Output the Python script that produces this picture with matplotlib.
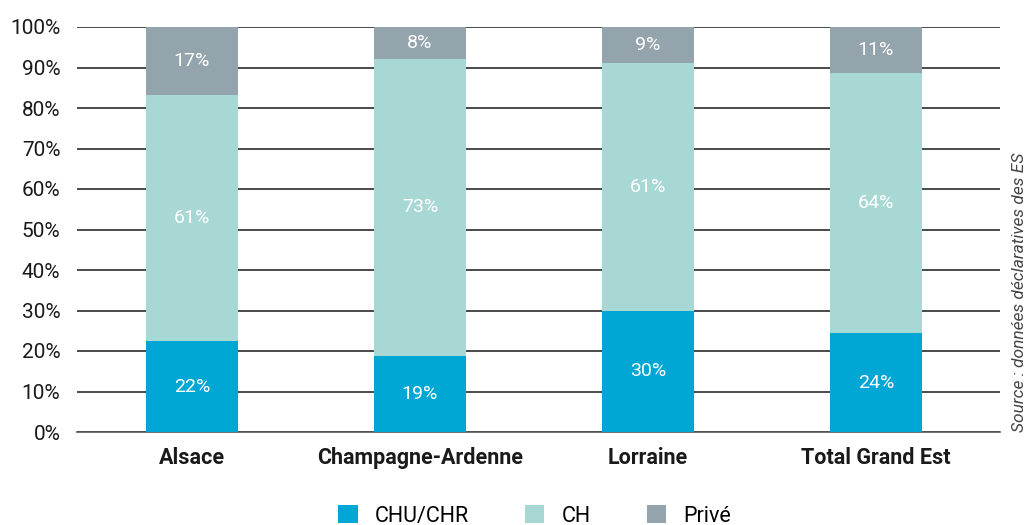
import matplotlib
matplotlib.use("Agg")
import matplotlib.pyplot as plt
from matplotlib.patches import Patch

categories = ["Alsace", "Champagne-Ardenne", "Lorraine", "Total Grand Est"]
chu = [22.4, 18.8, 29.9, 24.4]
ch = [60.8, 73.4, 61.2, 64.3]
prive = [16.8, 7.8, 8.9, 11.3]
series_names = ["CHU/CHR", "CH", "Privé"]
colors = ["#00A7D4", "#A8D8D4", "#93A4AD"]
yticks = [0, 10, 20, 30, 40, 50, 60, 70, 80, 90, 100]

plt.rcParams['font.family'] = ['Roboto', 'DejaVu Sans']

fig = plt.figure(figsize=(10.28, 5.25), dpi=100)
ax = fig.add_axes([77/1028, 1-432/525, (1000-77)/1028, (432-27)/525])

x = list(range(len(categories)))
width = 0.404
bottom = [0]*len(categories)
for vals, name, col in zip([chu, ch, prive], series_names, colors):
    ax.bar(x, vals, width, bottom=bottom, color=col, label=name, zorder=3)
    for xi, v, b in zip(x, vals, bottom):
        ax.text(xi, b + v/2, f"{v:.0f}%", ha="center", va="center",
                color="white", fontsize=14, zorder=4)
    bottom = [b + v for b, v in zip(bottom, vals)]

ax.set_xlim(-0.504, 3.544)
ax.set_ylim(0, 100)
ax.set_yticks(yticks)
ax.set_yticklabels([f"{t}%" for t in yticks], fontsize=15, color="#1a1a1a")
ax.yaxis.grid(True, color="#1a1a1a", linewidth=1.1, zorder=0)
ax.set_axisbelow(True)
ax.tick_params(axis="y", length=0, pad=12)
ax.tick_params(axis="x", length=0, pad=11)
ax.set_xticks(x)
ax.set_xticklabels(categories, fontsize=15.5, fontweight="bold", color="#1a1a1a")
for s in ["top", "right", "left"]:
    ax.spines[s].set_visible(False)
ax.spines["bottom"].set_color("#555555")
ax.spines["bottom"].set_linewidth(1.2)

handles = [Patch(facecolor=c, label=n) for c, n in zip(colors, series_names)]
fig.legend(handles=handles, loc="center", bbox_to_anchor=(0.52, 1-516/525),
           ncol=3, frameon=False, fontsize=15.5, handlelength=0.9, handleheight=0.9,
           handletextpad=0.8, columnspacing=2.6)

fig.text(1019/1028, 1-292/525, "Source : données déclaratives des ES", rotation=90,
         ha="center", va="center", fontsize=12.5, style="italic", color="#444444")

fig.savefig("out.png", dpi=100)
